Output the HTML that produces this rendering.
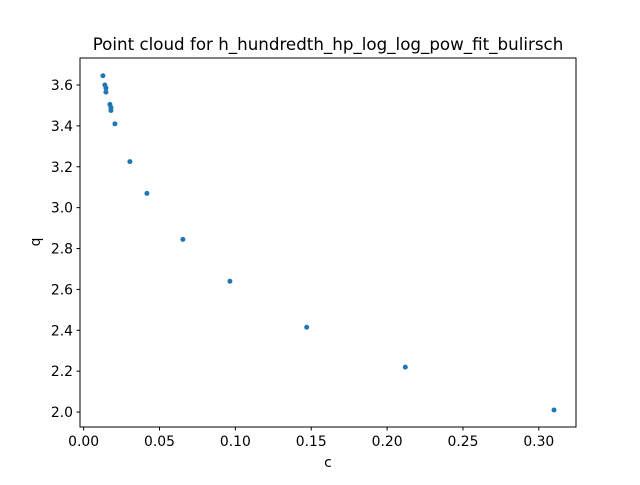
<!DOCTYPE html>
<html><head><meta charset="utf-8"><style>
body{margin:0;background:#fff}
svg text{font-family:"DejaVu Sans","Liberation Sans",sans-serif;fill:#000}
</style></head><body>
<svg id="chart" width="640" height="480">
<rect width="640" height="480" fill="#fff"/>
<text x="328" y="50" font-size="16.7" text-anchor="middle">Point cloud for h_hundredth_hp_log_log_pow_fit_bulirsch</text>
<g id="xt"></g><g id="yt"></g><g id="pts"></g>
<rect x="80" y="58" width="496" height="369" fill="none" stroke="#000" stroke-width="1"/>
<text x="328" y="467" font-size="13.9" text-anchor="middle">c</text>
<text x="40" y="242" font-size="13.9" text-anchor="middle" transform="rotate(-90 40 242)">q</text>
</svg>
<script>
const cVals=[0.0127,0.0140,0.0147,0.0147,0.0173,0.0180,0.0180,0.0206,0.0305,0.0417,0.0654,0.0964,0.147,0.212,0.310];
const qVals=[3.645,3.60,3.585,3.565,3.505,3.49,3.475,3.41,3.225,3.07,2.845,2.64,2.415,2.22,2.01];
const xTicks=[0,0.05,0.10,0.15,0.20,0.25,0.30];
const xLabels=["0.00","0.05","0.10","0.15","0.20","0.25","0.30"];
const yTicks=[2.0,2.2,2.4,2.6,2.8,3.0,3.2,3.4,3.6];
const yLabels=["2.0","2.2","2.4","2.6","2.8","3.0","3.2","3.4","3.6"];
const X0=-0.0024,X1=0.3245,Y0=1.927,Y1=3.732;
const sx=v=>80+(v-X0)/(X1-X0)*496;
const sy=v=>427-(v-Y0)/(Y1-Y0)*369;
const NS="http://www.w3.org/2000/svg";
const xt=document.getElementById('xt'),yt=document.getElementById('yt'),pts=document.getElementById('pts');
xTicks.forEach((t,i)=>{
 const l=document.createElementNS(NS,'line');
 l.setAttribute('x1',sx(t));l.setAttribute('x2',sx(t));l.setAttribute('y1',427);l.setAttribute('y2',430.5);l.setAttribute('stroke','#000');
 
 
 xt.appendChild(l);
 const tx=document.createElementNS(NS,'text');
 tx.setAttribute('x',sx(t));tx.setAttribute('y',446);tx.setAttribute('font-size','13.9');tx.setAttribute('text-anchor','middle');tx.textContent=xLabels[i];
 
 
 xt.appendChild(tx);
});
yTicks.forEach((t,i)=>{
 const l=document.createElementNS(NS,'line');
 l.setAttribute('x1',76.5);l.setAttribute('x2',80);l.setAttribute('y1',sy(t));l.setAttribute('y2',sy(t));l.setAttribute('stroke','#000');
 
 
 yt.appendChild(l);
 const tx=document.createElementNS(NS,'text');
 tx.setAttribute('x',73);tx.setAttribute('y',sy(t)+5);tx.setAttribute('font-size','13.9');tx.setAttribute('text-anchor','end');tx.textContent=yLabels[i];
 
 
 yt.appendChild(tx);
});
cVals.forEach((c,i)=>{
 const p=document.createElementNS(NS,'circle');
 p.setAttribute('cx',sx(c));p.setAttribute('cy',sy(qVals[i]));p.setAttribute('r',2.5);p.setAttribute('fill','#1f77b4');
 
 
 pts.appendChild(p);
});
</script>
</body></html>
